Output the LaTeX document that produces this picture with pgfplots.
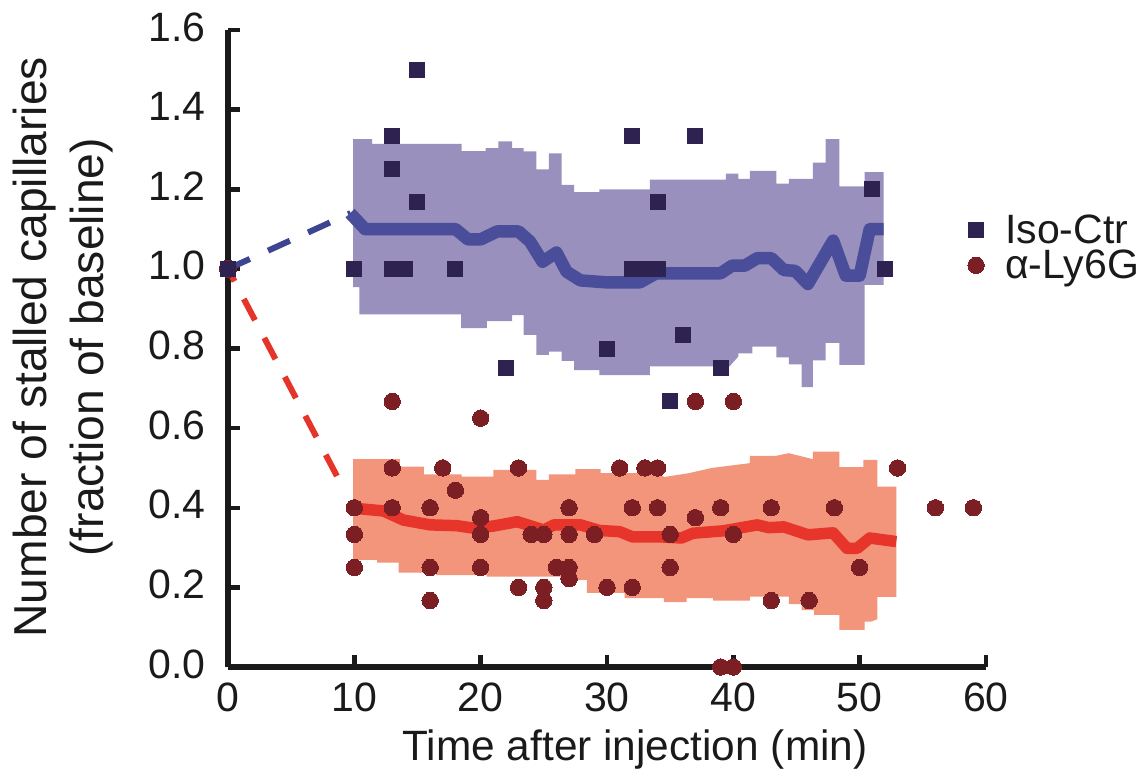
\documentclass[border=0pt]{standalone}
\usepackage{fontspec}
\setmainfont{Liberation Sans}
\usepackage{pgfplots}
\pgfplotsset{compat=1.18}
\definecolor{bandB}{HTML}{9A90BE}
\definecolor{bandR}{HTML}{F2957A}
\definecolor{lineB}{HTML}{4A4E9A}
\definecolor{lineR}{HTML}{E8352B}
\definecolor{dashB}{HTML}{3E4590}
\definecolor{dashR}{HTML}{E5352B}
\definecolor{markB}{HTML}{2E2350}
\definecolor{markR}{HTML}{7B1F24}
\definecolor{axc}{HTML}{1A1A1A}
\newcommand{\tickfont}{\fontsize{41}{48}\selectfont}
\newcommand{\xlabfont}{\fontsize{42.4}{50}\selectfont}
\newcommand{\ylabfont}{\fontsize{46.2}{57}\selectfont}
\begin{document}
\begin{tikzpicture}[x=1pt,y=1pt]
\path[use as bounding box] (-228,-113) rectangle (920,667);
\begin{axis}[
  at={(0pt,0pt)}, anchor=south west,
  scale only axis, width=758pt, height=637pt,
  xmin=0, xmax=60, ymin=0, ymax=1.6,
  axis x line=bottom, axis y line=left,
  axis line style={-, line width=5.5pt, color=axc},
  tick style={line width=4.5pt, color=axc},
  tick align=inside, major tick length=12pt,
  xtick={0,10,...,60}, ytick={0,0.2,...,1.6},
  minor tick num=0,
  clip=false,
  tick label style={font=\tickfont, color=axc},
  /pgf/number format/assume math mode=true,
  yticklabel style={/pgf/number format/fixed, /pgf/number format/fixed zerofill, /pgf/number format/precision=1, inner xsep=0pt, xshift=-22pt, yshift=3pt},
  xticklabel style={/pgf/number format/fixed, /pgf/number format/precision=0, inner ysep=0pt, yshift=-16pt},
  scaled ticks=false,
  xlabel={Time after injection (min)},
  xlabel style={font=\xlabfont, color=axc, at={(axis description cs:0.537,-0.13)}, anchor=center},
  ylabel={Number of stalled capillaries\\(fraction of baseline)},
  ylabel style={font=\ylabfont, color=axc, align=center, at={(axis description cs:-0.217,0.502)}, anchor=center},
  legend style={draw=none, fill=none, font=\tickfont, at={(axis cs:58.55,1.053)}, anchor=west,
    row sep=1pt, inner sep=0pt, legend cell align=left, /tikz/column 1/.style={column sep=19pt}, text=axc},
]
% purple band
\addplot[fill=bandB, draw=none, forget plot] coordinates {
(9.9,1.326)(11.4,1.326)(11.4,1.314)(18.5,1.314)(18.5,1.296)(20.4,1.296)(20.4,1.303)(21.4,1.303)(21.4,1.32)(22.5,1.32)(22.5,1.303)(23.4,1.303)(23.4,1.295)(24.4,1.295)(24.4,1.25)(25.4,1.25)(25.4,1.29)(26.4,1.29)(26.4,1.211)(27.4,1.211)(27.4,1.193)(29.4,1.193)(29.4,1.2)(33.4,1.2)(33.4,1.224)(39.4,1.224)(39.4,1.239)(40.4,1.239)(40.4,1.226)(41.3,1.226)(41.3,1.246)(43.4,1.246)(43.4,1.214)(44.4,1.214)(44.4,1.226)(46.3,1.226)(46.3,1.267)(47.3,1.267)(47.3,1.326)(48.4,1.326)(48.4,1.207)(50.4,1.207)(50.4,1.243)(51.9,1.243)
(51.9,0.96)(50.4,0.96)(50.4,0.759)(48.4,0.759)(48.4,0.814)(47.3,0.814)(47.3,0.77)(46.3,0.77)(46.3,0.703)(45.4,0.703)(45.4,0.76)(44.4,0.76)(44.4,0.778)(43.4,0.778)(43.4,0.805)(41.5,0.805)(41.5,0.788)(40.4,0.788)(40.4,0.78)(39.7,0.755)(33.4,0.755)(33.4,0.733)(29.4,0.733)(29.4,0.746)(27.4,0.746)(27.4,0.769)(26.4,0.769)(26.4,0.792)(25.4,0.792)(25.4,0.784)(24.4,0.784)(24.4,0.834)(23.4,0.834)(23.4,0.884)(22.5,0.884)(22.5,0.869)(20.5,0.869)(20.5,0.851)(18.45,0.851)(18.45,0.886)(10.4,0.886)(10.4,0.954)(9.9,0.954)
} -- cycle;
% orange band
\addplot[fill=bandR, draw=none, forget plot] coordinates {
(9.9,0.522)(13.6,0.522)(13.6,0.503)(15.5,0.503)(15.5,0.484)(18.5,0.484)(18.5,0.478)(21,0.478)(21,0.495)(24.4,0.495)(24.4,0.47)(25.4,0.47)(25.4,0.484)(27.5,0.484)(27.5,0.497)(29.5,0.497)(29.5,0.487)(34.2,0.487)(34.5,0.477)(36.5,0.487)(38.3,0.5)(41.3,0.512)(41.3,0.53)(43.3,0.53)(44.4,0.537)(46.3,0.522)(46.3,0.541)(48.4,0.541)(48.4,0.502)(50.3,0.502)(50.3,0.52)(51.4,0.52)(51.4,0.453)(52.9,0.453)
(52.9,0.176)(51.4,0.176)(51.4,0.12)(50.9,0.114)(50.4,0.114)(50.4,0.093)(48.4,0.093)(48.4,0.131)(46.4,0.131)(46.4,0.143)(45.4,0.143)(45.4,0.158)(44.4,0.158)(44.4,0.177)(41.3,0.177)(41.3,0.167)(38.4,0.167)(38.4,0.173)(36.3,0.173)(36.3,0.163)(34.5,0.163)(34.5,0.173)(31.4,0.173)(31.4,0.186)(28.4,0.186)(28.4,0.219)(26.3,0.219)(26.3,0.227)(20.5,0.227)(20.5,0.231)(16.5,0.231)(16.5,0.237)(13.5,0.237)(13.5,0.262)(11.8,0.262)(11.8,0.269)(9.9,0.269)
} -- cycle;
% dashed lead-ins
\addplot[dashB, line width=6pt, dash pattern=on 24pt off 20pt, forget plot] coordinates {(0,1)(9.7,1.14)};
\addplot[dashR, line width=6pt, dash pattern=on 24pt off 20pt, dash phase=10pt, forget plot] coordinates {(0,1)(8.7,0.475)};
% mean lines
\addplot[lineB, line width=12.5pt, line join=round, forget plot] coordinates {
(9.66,1.14)(10.85,1.1)(18,1.1)(19,1.074)(20,1.074)(21.3,1.094)(23,1.094)(23.9,1.069)(24.9,1.018)(26,1.041)(26.8,0.993)(27.9,0.971)(30,0.966)(32.6,0.966)(33.9,0.989)(39,0.989)(39.9,1.008)(40.9,1.008)(41.9,1.027)(43,1.027)(44,0.997)(44.9,0.995)(45.9,0.962)(47.9,1.071)(48.9,0.983)(50,0.983)(50.8,1.1)(51.9,1.1)};
\addplot[lineR, line width=11.5pt, line join=round, forget plot] coordinates {
(9.9,0.399)(12.3,0.392)(13.9,0.369)(16,0.357)(18.1,0.355)(19.4,0.349)(21,0.354)(22.9,0.365)(25,0.344)(25.8,0.357)(27.9,0.357)(29.4,0.343)(31,0.34)(32,0.327)(34.2,0.327)(35.9,0.324)(36.8,0.336)(39.2,0.342)(41.9,0.357)(42.8,0.35)(44,0.352)(45.9,0.332)(47.9,0.337)(49,0.298)(49.8,0.298)(50.8,0.324)(52.9,0.315)};
% data points
\addplot[only marks, mark=*, mark size=8.6pt, mark options={draw=markR, fill=markR, line width=0pt}, forget plot] coordinates {(0,1)};
\addplot[only marks, mark=square*, mark size=7.5pt, mark options={draw=markB, fill=markB, line width=0pt}] coordinates {
(0,1)(10,1)(13,1)(14,1)(18,1)(15,1.5)(13,1.333)(13,1.25)(15,1.167)(22,0.75)(30,0.8)(32,1.333)(37,1.333)(32,1)(33,1)(34,1)(34,1.167)(36,0.833)(39,0.75)(35,0.667)(51,1.2)(52,1)};
\addlegendentry{Iso-Ctr}
\addplot[only marks, mark=*, mark size=8.2pt, mark options={draw=markR, fill=markR, line width=0pt}] coordinates {
(10,0.4)(10,0.333)(10,0.25)(13,0.667)(13,0.5)(13,0.4)(16,0.4)(16,0.25)(16,0.167)(17,0.5)(18,0.444)(20,0.625)(20,0.375)(20,0.333)(20,0.25)(23,0.5)(23,0.2)(24,0.333)(25,0.333)(25,0.2)(25,0.167)(26,0.25)(27,0.4)(27,0.333)(27,0.25)(27,0.222)(29,0.333)(30,0.2)(31,0.5)(32,0.4)(32,0.2)(33,0.5)(34,0.5)(34,0.4)(35,0.333)(35,0.25)(37,0.667)(37,0.375)(39,0.4)(39,0)(40,0.667)(40,0.333)(40,0)(43,0.4)(43,0.167)(46,0.167)(48,0.4)(50,0.25)(53,0.5)(56,0.4)(59,0.4)};
\addlegendentry{α-Ly6G}
\end{axis}
\end{tikzpicture}
\end{document}
